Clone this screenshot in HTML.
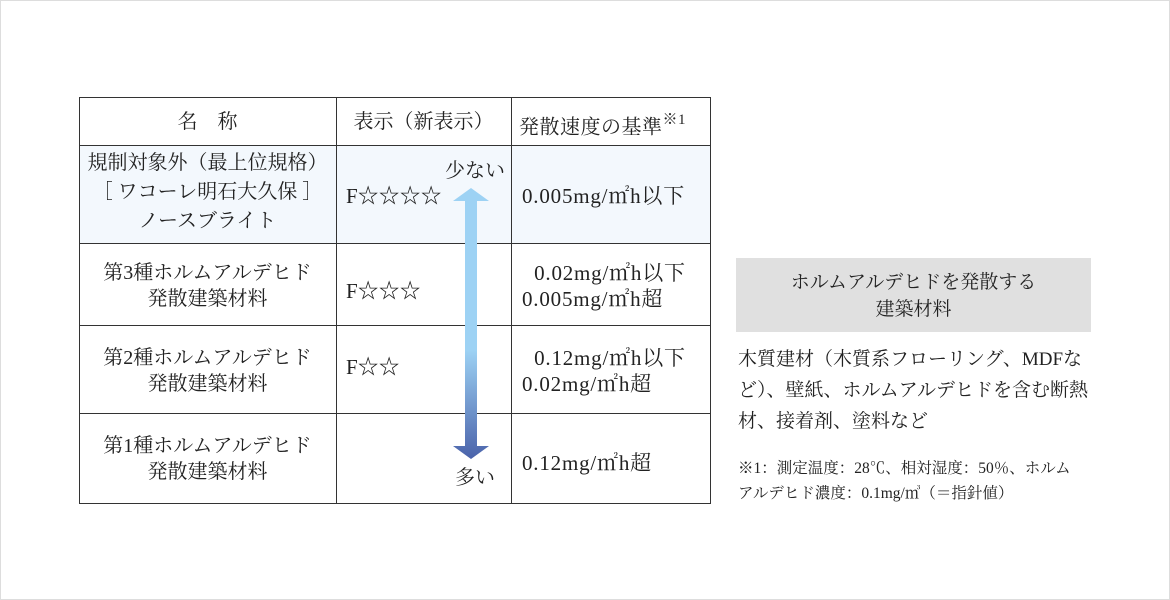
<!DOCTYPE html>
<html><head><meta charset="utf-8"><style>
body{margin:0;background:#fff;}
.wrap{position:relative;width:1168px;height:598px;border:1px solid #ddd;overflow:hidden;font-family:"Liberation Serif","Noto Serif CJK SC",serif;color:#222;}
.t{position:absolute;white-space:nowrap;font-size:20px;line-height:26px;}
.c{text-align:center;}
.val{font-size:21px;letter-spacing:0.8px;}
.h{position:absolute;background:#333;height:1px;}
.v{position:absolute;background:#333;width:1px;}
</style></head><body><div class="wrap">
<div style="position:absolute;left:79px;top:145px;width:631px;height:98px;background:#f3f8fd"></div>
<div class="h" style="left:78px;top:96px;width:632px"></div>
<div class="h" style="left:78px;top:144px;width:632px"></div>
<div class="h" style="left:78px;top:242px;width:632px"></div>
<div class="h" style="left:78px;top:324px;width:632px"></div>
<div class="h" style="left:78px;top:412px;width:632px"></div>
<div class="h" style="left:78px;top:502px;width:632px"></div>
<div class="v" style="left:78px;top:96px;height:407px"></div>
<div class="v" style="left:335px;top:96px;height:407px"></div>
<div class="v" style="left:510px;top:96px;height:407px"></div>
<div class="v" style="left:709px;top:96px;height:407px"></div>

<div class="t c" style="left:78px;width:257px;top:108px">名　称</div>
<div class="t c" style="left:335px;width:175px;top:108px">表示（新表示）</div>
<div class="t" style="left:518px;top:108px;letter-spacing:0.5px">発散速度の基準<sup style="font-size:15px;position:relative;top:-2px">※1</sup></div>

<div class="t c" style="left:78px;width:257px;top:148px;line-height:29px">規制対象外（最上位規格）<br>［ ワコーレ明石大久保 ］<br>ノースブライト</div>
<div class="t" style="left:345px;top:182px;font-size:21px">F☆☆☆☆</div>
<div class="t" style="left:444px;top:157px">少ない</div>
<div class="t val" style="left:521px;top:182px">0.005mg/㎡h以下</div>

<div class="t c" style="left:78px;width:257px;top:259px">第3種ホルムアルデヒド<br>発散建築材料</div>
<div class="t" style="left:345px;top:277px;font-size:21px">F☆☆☆</div>
<div class="t val" style="left:521px;top:259px">&nbsp;&nbsp;0.02mg/㎡h以下<br>0.005mg/㎡h超</div>

<div class="t c" style="left:78px;width:257px;top:344px">第2種ホルムアルデヒド<br>発散建築材料</div>
<div class="t" style="left:345px;top:353px;font-size:21px">F☆☆</div>
<div class="t val" style="left:521px;top:344px">&nbsp;&nbsp;0.12mg/㎡h以下<br>0.02mg/㎡h超</div>

<div class="t c" style="left:78px;width:257px;top:432px">第1種ホルムアルデヒド<br>発散建築材料</div>
<div class="t" style="left:454px;top:464px">多い</div>
<div class="t val" style="left:521px;top:449px">0.12mg/㎡h超</div>

<svg style="position:absolute;left:0;top:0" width="1170" height="600">
<defs><linearGradient id="g" x1="0" y1="186" x2="0" y2="458" gradientUnits="userSpaceOnUse">
<stop offset="0" stop-color="#9dd2f4"/><stop offset="0.6" stop-color="#9dd2f4"/><stop offset="1" stop-color="#4a62aa"/></linearGradient></defs>
<polygon points="470,187 488,200 476,200 476,445 488,445 470,458 452,445 464,445 464,200 452,200" fill="url(#g)"/>
</svg>

<div style="position:absolute;left:735px;top:257px;width:355px;height:74px;background:#e0e0e0"></div>
<div class="t c" style="left:735px;width:355px;top:268px;font-size:19px;line-height:27px">ホルムアルデヒドを発散する<br>建築材料</div>
<div class="t" style="left:737px;top:343px;font-size:19px;line-height:31px">木質建材（木質系フローリング、MDFな<br>ど）、壁紙、ホルムアルデヒドを含む断熱<br>材、接着剤、塗料など</div>
<div class="t" style="left:737px;top:455px;font-size:15.5px;line-height:25px">※1：測定温度：28℃、相対湿度：50％、ホルム<br>アルデヒド濃度：0.1mg/㎥（＝指針値）</div>
</div></body></html>
